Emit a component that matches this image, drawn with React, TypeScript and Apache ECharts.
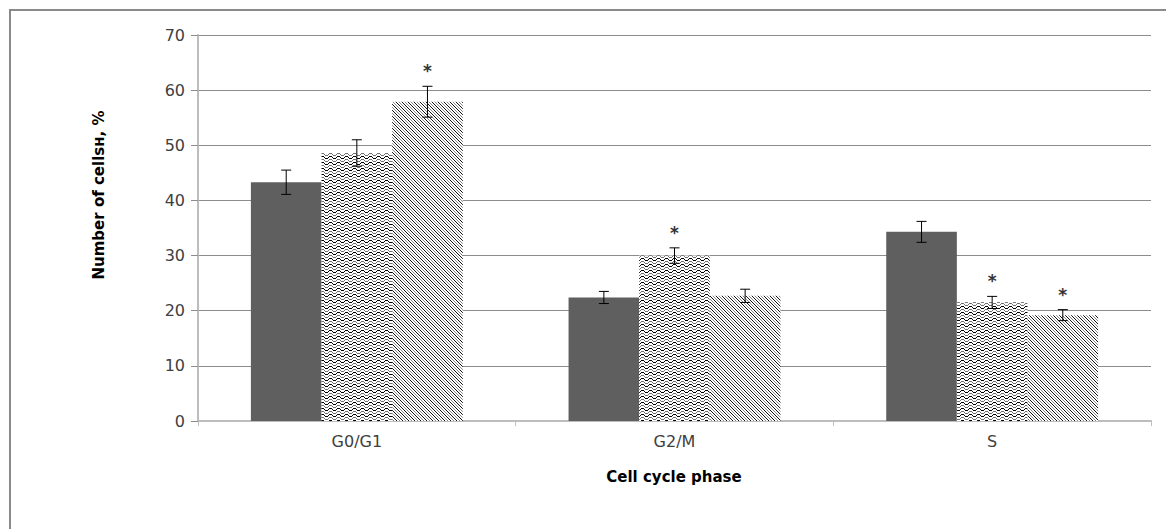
import React, { useEffect, useRef } from "react";
import * as echarts from "echarts";

const categories = ["G0/G1", "G2/M", "S"];
const controlValues = [43.3, 22.4, 34.3];
const controlErrors = [2.2, 1.1, 1.9];
const controlStars = [0, 0, 0];
const wavyValues = [48.6, 30.0, 21.5];
const wavyErrors = [2.4, 1.4, 1.1];
const wavyStars = [0, 1, 1];
const diagValues = [57.9, 22.7, 19.2];
const diagErrors = [2.8, 1.2, 1.0];
const diagStars = [1, 0, 1];
const yTicks = { min: 0, max: 70, interval: 10 };

const CAT_GAP = 0.333;
const FONT = "'DejaVu Sans', 'Open Sans', sans-serif";

function makeWavy(): HTMLCanvasElement {
  const c = document.createElement("canvas");
  c.width = 8;
  c.height = 6;
  const ctx = c.getContext("2d")!;
  ctx.fillStyle = "#ffffff";
  ctx.fillRect(0, 0, 8, 6);
  const wave = [1, 0, 0, 0, 1, 2, 2, 2];
  for (let x = 0; x < 8; x++) {
    ctx.fillStyle = "#000000";
    ctx.fillRect(x, wave[x], 1, 1);
    ctx.fillStyle = "#707070";
    ctx.fillRect(x, (wave[x] + 3) % 6, 1, 1);
  }
  return c;
}

function makeDiag(): HTMLCanvasElement {
  const c = document.createElement("canvas");
  c.width = 6;
  c.height = 6;
  const ctx = c.getContext("2d")!;
  ctx.fillStyle = "#ffffff";
  ctx.fillRect(0, 0, 6, 6);
  for (let x = 0; x < 6; x++) {
    ctx.fillStyle = "#111111";
    ctx.fillRect(x, x, 1, 1);
    ctx.fillStyle = "#888888";
    ctx.fillRect(x, (x + 3) % 6, 1, 1);
  }
  return c;
}

function errorSeries(idx: number, values: number[], errors: number[], stars: number[]) {
  return {
    type: "custom",
    z: 5,
    data: values.map((v, i) => [i, v, errors[i], stars[i]]),
    renderItem: (params: any, api: any) => {
      const ci = api.value(0);
      const v = api.value(1);
      const e = api.value(2);
      const sig = api.value(3);
      const band = api.size([1, 0])[0];
      const total = band * (1 - CAT_GAP);
      const barW = total / 3;
      const center = api.coord([ci, v])[0];
      const x = center - total / 2 + (idx + 0.5) * barW;
      const yTop = api.coord([ci, v + e])[1];
      const yBot = api.coord([ci, v - e])[1];
      const cap = 5;
      const style = { stroke: "#000000", lineWidth: 1 };
      const children: any[] = [
        { type: "line", shape: { x1: x, y1: yTop, x2: x, y2: yBot }, style },
        { type: "line", shape: { x1: x - cap, y1: yTop, x2: x + cap, y2: yTop }, style },
        { type: "line", shape: { x1: x - cap, y1: yBot, x2: x + cap, y2: yBot }, style },
      ];
      if (sig) {
        children.push({
          type: "text",
          style: {
            text: "*",
            x: x,
            y: yTop - 15,
            align: "center",
            verticalAlign: "middle",
            fill: "#333333",
            font: `bold 17px ${FONT}`,
          },
        });
      }
      return { type: "group", children };
    },
  };
}

export default function App() {
  const ref = useRef<HTMLDivElement>(null);
  useEffect(() => {
    document.body.style.margin = "0";
    const chart = echarts.init(ref.current!, null, { renderer: "svg" });
    const wavy = makeWavy();
    const diag = makeDiag();
    chart.setOption({
      animation: false,
      backgroundColor: "#ffffff",
      grid: { left: 198, right: 15, top: 35, bottom: 108 },
      xAxis: {
        type: "category",
        data: categories,
        axisLine: { onZero: false, lineStyle: { color: "#bdbdbd", width: 2 } },
        axisTick: { show: true, alignWithLabel: false, length: 5, lineStyle: { color: "#bdbdbd" } },
        axisLabel: { color: "#404040", fontSize: 16, fontFamily: FONT, margin: 12 },
        splitLine: { show: false },
      },
      yAxis: {
        type: "value",
        min: yTicks.min,
        max: yTicks.max,
        interval: yTicks.interval,
        axisLine: { show: true, onZero: false, lineStyle: { color: "#bdbdbd", width: 2 } },
        axisTick: { show: true, length: 7, lineStyle: { color: "#8c8c8c" } },
        axisLabel: { color: "#404040", fontSize: 16, fontFamily: FONT, margin: 13 },
        splitLine: { show: true, lineStyle: { color: "#8c8c8c", width: 1 } },
      },
      graphic: [
        {
          type: "rect",
          shape: { x: 10, y: 10, width: 1300, height: 700 },
          style: { fill: "none", stroke: "#8a8a8a", lineWidth: 2 },
          silent: true,
        },
        {
          type: "text",
          x: 99,
          y: 195,
          rotation: Math.PI / 2,
          style: {
            text: "Number of cellsн, %",
            align: "center",
            verticalAlign: "middle",
            fill: "#000000",
            font: `bold 15px ${FONT}`,
          },
        },
        {
          type: "text",
          x: 674,
          y: 477,
          style: {
            text: "Cell cycle phase",
            align: "center",
            verticalAlign: "middle",
            fill: "#000000",
            font: `bold 15px ${FONT}`,
          },
        },
      ],
      series: [
        {
          type: "bar",
          data: controlValues,
          barGap: "0%",
          barCategoryGap: "33.3%",
          itemStyle: { color: "#5f5f5f" },
        },
        {
          type: "bar",
          data: wavyValues,
          barGap: "0%",
          barCategoryGap: "33.3%",
          itemStyle: { color: { image: wavy, repeat: "repeat" } },
        },
        {
          type: "bar",
          data: diagValues,
          barGap: "0%",
          barCategoryGap: "33.3%",
          itemStyle: { color: { image: diag, repeat: "repeat" } },
        },
        errorSeries(0, controlValues, controlErrors, controlStars),
        errorSeries(1, wavyValues, wavyErrors, wavyStars),
        errorSeries(2, diagValues, diagErrors, diagStars),
      ],
    });
    return () => chart.dispose();
  }, []);
  return <div ref={ref} style={{ width: 1166, height: 529 }} />;
}
